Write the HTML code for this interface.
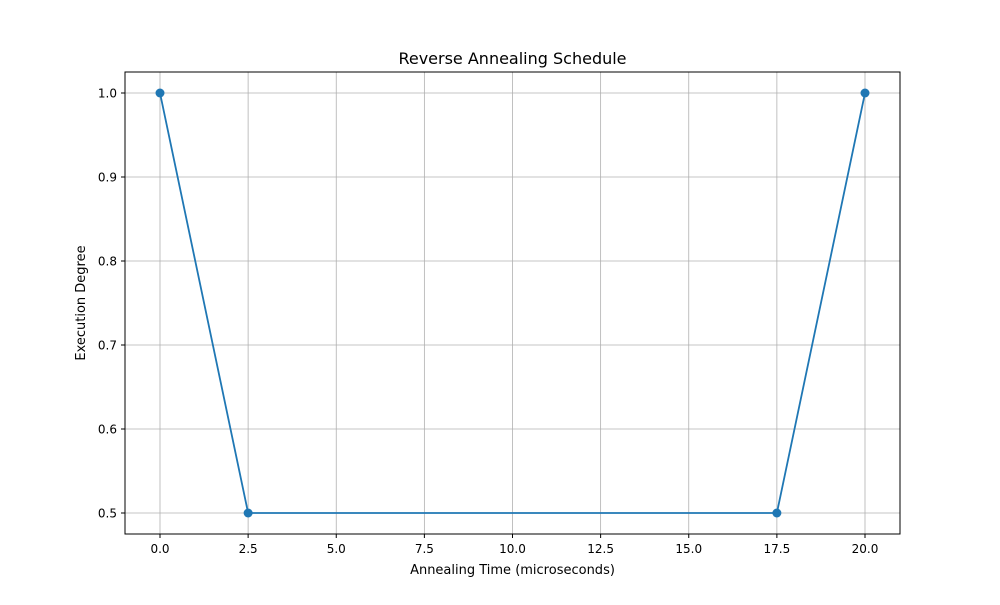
<!DOCTYPE html>
<html><head><meta charset="utf-8"><style>
body{margin:0;background:#fff}
svg text{font-family:"DejaVu Sans","Liberation Sans",sans-serif;fill:#000}
</style></head><body>
<svg id="chart" width="1000" height="600" viewBox="0 0 1000 600">
<rect width="1000" height="600" fill="#fff"/>
<g id="grid"></g><g id="ticks"></g><g id="series"></g>
<rect x="125" y="72" width="775" height="462" fill="none" stroke="#000" stroke-width="1"/>
<text x="512.5" y="64" text-anchor="middle" font-size="16">Reverse Annealing Schedule</text>
<text x="512.5" y="574" text-anchor="middle" font-size="13">Annealing Time (microseconds)</text>
<text transform="translate(85,303) rotate(-90)" text-anchor="middle" font-size="13">Execution Degree</text>
</svg>
<script>
const times=[0,2.5,17.5,20];
const degrees=[1.0,0.5,0.5,1.0];
const xTicks=[0,2.5,5,7.5,10,12.5,15,17.5,20];
const yTicks=[0.5,0.6,0.7,0.8,0.9,1.0];
const NS="http://www.w3.org/2000/svg";
function xs(v){return 160+(v-0)*(865-160)/20;}
function ys(v){return 513-(v-0.5)*(513-93)/0.5;}
function mk(t,a,p){const e=document.createElementNS(NS,t);for(const k in a)e.setAttribute(k,a[k]);p.appendChild(e);return e;}
const g=document.getElementById('grid'),tk=document.getElementById('ticks'),s=document.getElementById('series');
xTicks.forEach(v=>{const x=xs(v);
const l=mk('line',{x1:x,x2:x,y1:72,y2:534,stroke:'#b0b0b0','stroke-width':0.8},g);


mk('line',{x1:x,x2:x,y1:534,y2:538,stroke:'#000'},tk);
const t=mk('text',{x:x,y:553,'text-anchor':'middle','font-size':12},tk);t.textContent=v.toFixed(1);

});
yTicks.forEach(v=>{const y=ys(v);
const l=mk('line',{x1:125,x2:900,y1:y,y2:y,stroke:'#b0b0b0','stroke-width':0.8},g);


mk('line',{x1:121,x2:125,y1:y,y2:y,stroke:'#000'},tk);
const t=mk('text',{x:117,y:y+4.5,'text-anchor':'end','font-size':12},tk);t.textContent=v.toFixed(1);

});
const pts=times.map((t,i)=>xs(t)+','+ys(degrees[i])).join(' ');
const pl=mk('polyline',{points:pts,fill:'none',stroke:'#1f77b4','stroke-width':1.8},s);


times.forEach((t,i)=>{const c=mk('circle',{cx:xs(t),cy:ys(degrees[i]),r:4.5,fill:'#1f77b4'},s);

});
</script>
</body></html>
